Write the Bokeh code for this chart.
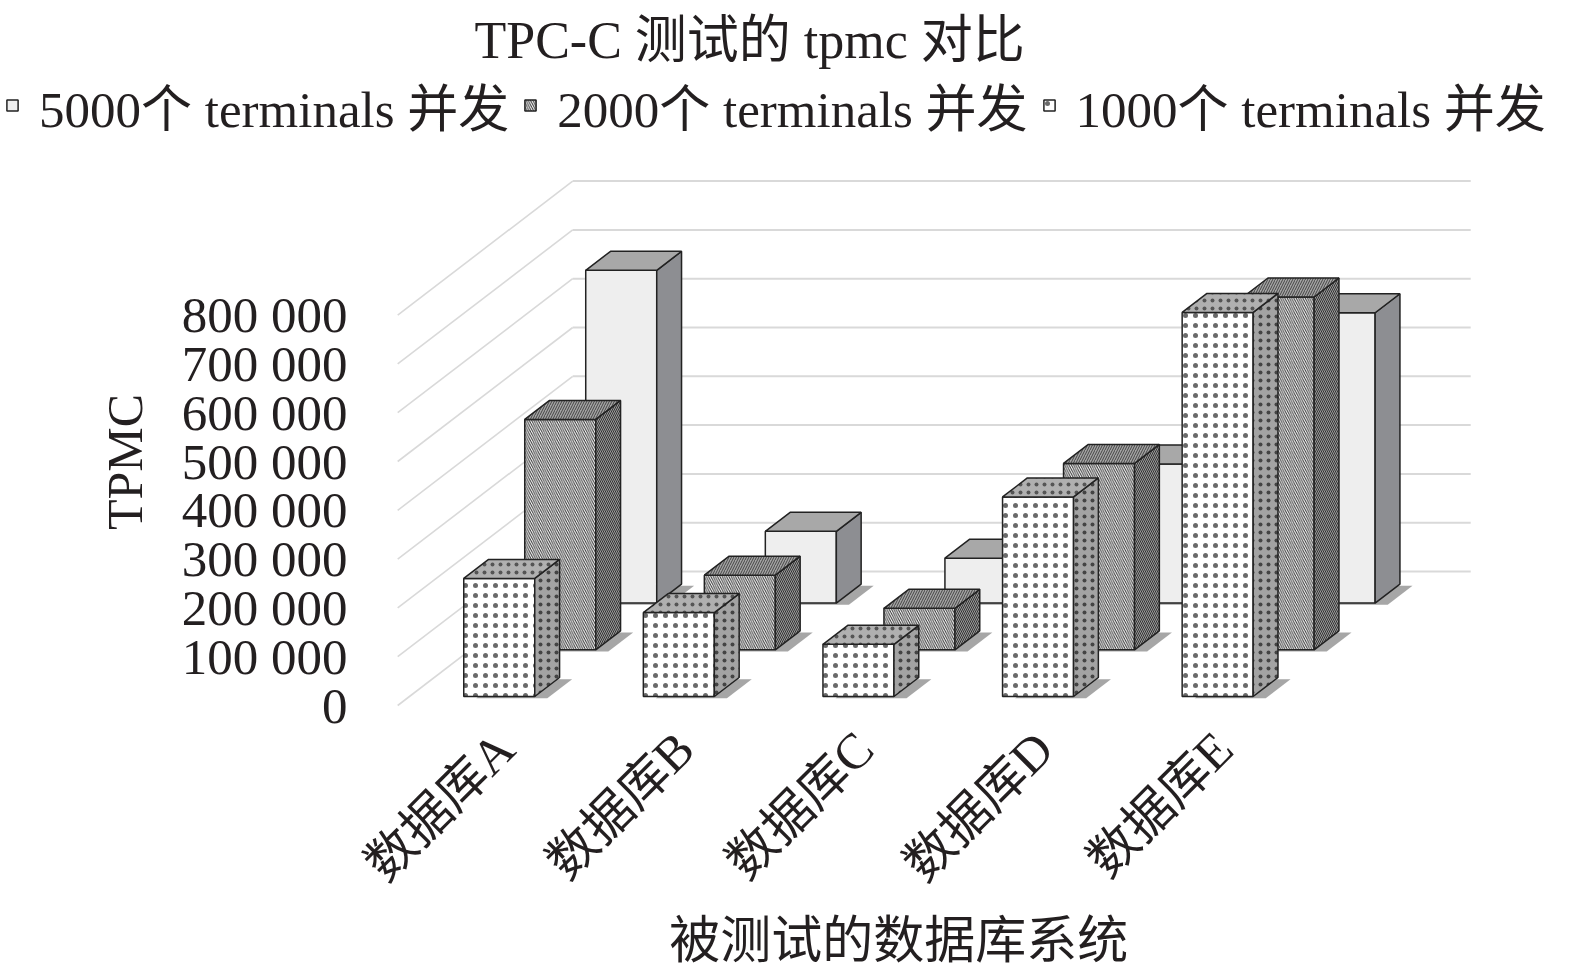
import math
from bokeh.plotting import figure
from bokeh.models import (FixedTicker, Legend, LegendItem, LinearAxis, Range1d)
from bokeh.embed import file_html
from bokeh.resources import INLINE

# ---------------- data ----------------
categories = ["数据库A", "数据库B", "数据库C", "数据库D", "数据库E"]
series_names = ["5000个 terminals 并发", "2000个 terminals 并发", "1000个 terminals 并发"]
tpmc_5000 = [682000, 147000, 92000, 285000, 595000]
tpmc_2000 = [472000, 153000, 85000, 382000, 723000]
tpmc_1000 = [242000, 172000, 107000, 409000, 787000]
y_ticks = [0, 100000, 200000, 300000, 400000, 500000, 600000, 700000, 800000]
y_tick_labels = ["0", "100 000", "200 000", "300 000", "400 000",
                 "500 000", "600 000", "700 000", "800 000"]
title_text = "TPC-C 测试的 tpmc 对比"
x_title = "被测试的数据库系统"
y_title = "TPMC"

# ---------------- geometry / style ----------------
FONT = "'Liberation Serif', 'Noto Sans CJK SC', serif"
TXT = "#231f20"
NB = "\u00a0"
PX_PER_CAT = 179.6
PX_PER_VAL = 48.8 / 100000.0
CAT0_PX = 397.2                      # canvas x of the floor's front-left corner
ZERO_PX = 705.0                      # canvas y of value 0 on the front plane
DEPTH_RATIO = 175.0 / 134.0          # horizontal px per vertical px of depth
FLOOR_DEPTH = 134.0                  # vertical px of whole floor depth
ROW_FRONT = [102.4, 55.7, 9.0]       # depth of each row's front face (back -> front)
BAR_DEPTH = 19.0
BAR_W = 71.0 / PX_PER_CAT
LABEL_SHIFT = 0.1


def depth_offset(zpx):
    return zpx * DEPTH_RATIO / PX_PER_CAT, zpx / PX_PER_VAL


def x_of_px(px):
    return (px - CAT0_PX) / PX_PER_CAT - 0.5


def y_of_px(py):
    return (ZERO_PX - py) / PX_PER_VAL


rows = [
    dict(values=tpmc_5000, name=series_names[0], z=ROW_FRONT[0],
         front=dict(fill_color="#eeeeee"),
         side=dict(fill_color="#8d8e92"),
         top=dict(fill_color="#a8a8a8")),
    dict(values=tpmc_2000, name=series_names[1], z=ROW_FRONT[1],
         front=dict(fill_color="#ffffff", hatch_pattern="left_diagonal_line",
                    hatch_scale=4.5, hatch_weight=1.0, hatch_color="#333333"),
         side=dict(fill_color="#9a9a9a", hatch_pattern="left_diagonal_line",
                   hatch_scale=4, hatch_weight=1.0, hatch_color="#333333"),
         top=dict(fill_color="#a4a4a4", hatch_pattern="right_diagonal_line",
                  hatch_scale=5, hatch_weight=1.0, hatch_color="#444444")),
    dict(values=tpmc_1000, name=series_names[2], z=ROW_FRONT[2],
         front=dict(fill_color="#ffffff", hatch_pattern="dot",
                    hatch_scale=10, hatch_weight=1.0, hatch_color="#6a6a6a"),
         side=dict(fill_color="#a3a3a3", hatch_pattern="dot",
                   hatch_scale=8, hatch_weight=1.0, hatch_color="#444444"),
         top=dict(fill_color="#b0b0b0", hatch_pattern="dot",
                  hatch_scale=8, hatch_weight=1.0, hatch_color="#555555")),
]

# ---------------- canvas ----------------
W, H = 1567, 968
MT = 80                                  # title band
p = figure(width=W, height=H, output_backend="svg", toolbar_location=None,
           x_range=Range1d(x_of_px(0), x_of_px(W)),
           y_range=Range1d(y_of_px(H), y_of_px(MT)),
           x_axis_location=None, y_axis_location=None,
           min_border_left=0, min_border_right=0,
           min_border_top=MT, min_border_bottom=0)
p.outline_line_color = None
p.grid.visible = False

# walls
fdx, fdy = depth_offset(FLOOR_DEPTH)
left_x = -0.5
right_x = len(categories) - 0.5
p.multi_line(xs=[[left_x, left_x + fdx] for v in y_ticks],
             ys=[[v, v + fdy] for v in y_ticks],
             line_color="#d9d9d9", line_width=1.6)
p.multi_line(xs=[[left_x + fdx, right_x + fdx] for v in y_ticks],
             ys=[[v + fdy, v + fdy] for v in y_ticks],
             line_color="#d9d9d9", line_width=2)

# bars, back row first
bdx, bdy = depth_offset(BAR_DEPTH)
legend_items = []
for row in rows:
    ox, oy = depth_offset(row["z"])
    fr, sd, tp, sh = ([], []), ([], []), ([], []), ([], [])
    for i, v in enumerate(row["values"]):
        xa = i + ox - BAR_W / 2
        xb = xa + BAR_W
        yb = oy
        yt = oy + v
        fr[0].append([xa, xb, xb, xa]); fr[1].append([yb, yb, yt, yt])
        sd[0].append([xb, xb + bdx, xb + bdx, xb]); sd[1].append([yb, yb + bdy, yt + bdy, yt])
        tp[0].append([xa, xb, xb + bdx, xa + bdx]); tp[1].append([yt, yt, yt + bdy, yt + bdy])
        s, sv = 0.07, -3500
        sh[0].append([xa + s, xb + s, xb + bdx + s, xa + bdx + s])
        sh[1].append([yb + sv, yb + sv, yb + bdy + sv, yb + bdy + sv])
    p.patches(xs=sh[0], ys=sh[1], fill_color="#3a3a3a", fill_alpha=0.45, line_color=None)
    r_front = p.patches(xs=fr[0], ys=fr[1], line_color="#222222", line_width=1.5, **row["front"])
    p.patches(xs=sd[0], ys=sd[1], line_color="#222222", line_width=1.5, **row["side"])
    p.patches(xs=tp[0], ys=tp[1], line_color="#222222", line_width=1.5, **row["top"])
    legend_items.append(LegendItem(label=row["name"], renderers=[r_front]))

# axes (drawn at fixed positions inside the canvas)
yaxis = LinearAxis(ticker=FixedTicker(ticks=y_ticks),
                   fixed_location=x_of_px(390),
                   major_label_overrides={t: l for t, l in zip(y_ticks, y_tick_labels)},
                   axis_label=NB * 10 + y_title,
                   axis_line_color=None, major_tick_line_color=None,
                   minor_tick_line_color=None, major_tick_in=0, major_tick_out=0,
                   major_label_standoff=43,
                   major_label_text_font=FONT, major_label_text_font_size="51px",
                   major_label_text_color=TXT,
                   axis_label_text_font=FONT, axis_label_text_font_size="50px",
                   axis_label_text_font_style="normal", axis_label_text_color=TXT,
                   axis_label_standoff=26)
p.add_layout(yaxis, "left")

x_ticks = [i + LABEL_SHIFT for i in range(len(categories))]
xaxis = LinearAxis(ticker=FixedTicker(ticks=x_ticks),
                   fixed_location=y_of_px(707),
                   major_label_overrides={t: c for t, c in zip(x_ticks, categories)},
                   major_label_orientation=math.pi / 4,
                   axis_label=NB * 18 + x_title,
                   axis_line_color=None, major_tick_line_color=None,
                   minor_tick_line_color=None, major_tick_in=0, major_tick_out=0,
                   major_label_standoff=33,
                   major_label_text_font=FONT, major_label_text_font_size="50px",
                   major_label_text_color=TXT,
                   axis_label_text_font=FONT, axis_label_text_font_size="51px",
                   axis_label_text_font_style="normal", axis_label_text_color=TXT,
                   axis_label_standoff=-2)
p.add_layout(xaxis, "below")

# legend (inside the canvas, top band) and title
legend = Legend(items=legend_items, orientation="horizontal",
                location=(5, H - 142), margin=0, padding=0,
                label_text_font=FONT, label_text_font_size="51px",
                label_text_color=TXT,
                glyph_width=14, glyph_height=14, label_standoff=20, spacing=14,
                label_height=50, border_line_color=None, background_fill_alpha=0)
p.add_layout(legend, "center")

p.title.text = title_text
p.title.text_font = FONT
p.title.text_font_size = "52px"
p.title.text_font_style = "normal"
p.title.text_color = TXT
p.title.vertical_align = "top"
p.title.align = "left"
p.title.offset = 474
p.title.standoff = 19

open("out.html", "w").write(file_html(p, INLINE))
